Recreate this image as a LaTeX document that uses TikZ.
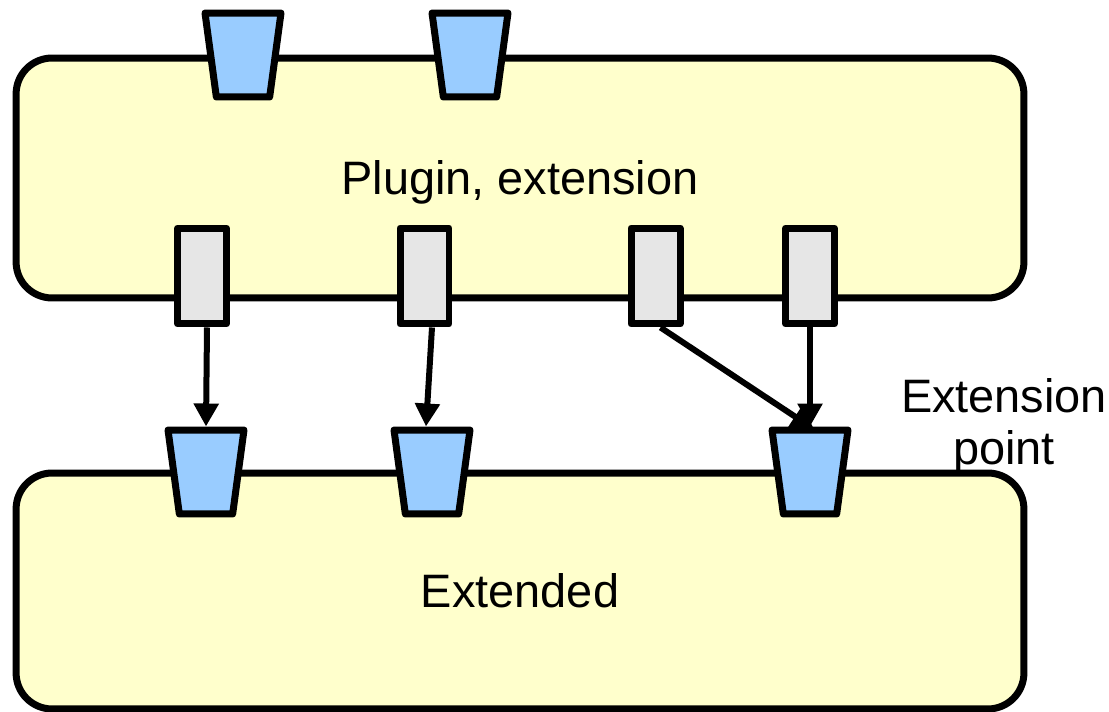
\documentclass[tikz,border=0pt]{standalone}
\usepackage{fontspec}
\setmainfont{Liberation Sans}
\usetikzlibrary{arrows.meta,shapes.geometric}
\definecolor{cream}{HTML}{FFFFCC}
\definecolor{skyblue}{HTML}{99CCFF}
\definecolor{pluggrey}{HTML}{E6E6E6}

\begin{document}
\begin{tikzpicture}[x=0.02cm, y=-0.02cm,
      part/.style={draw, line width=0.14cm, rounded corners=0.72cm, fill=cream,
        minimum width=20.16cm, inner sep=0pt, text depth=0pt,
        font=\fontsize{26.7}{29.6}\selectfont},
      socket/.style={draw, line width=0.14cm, fill=skyblue, trapezium,
        shape border rotate=180, trapezium stretches=true, trapezium angle=78,
        minimum width=1.52cm, minimum height=1.68cm, inner sep=1pt,
        line join=round},
      plug/.style={draw, line width=0.14cm, fill=pluggrey, line join=round,
        minimum width=0.98cm, minimum height=1.92cm, inner sep=0pt},
      arrow/.style={-{Triangle[length=0.46cm, width=0.48cm]}, line width=0.12cm}
    ]
      \useasboundingbox (0,0) rectangle (1109,712);
      % the two components
      \node[part, minimum height=4.8cm] (plugin) at (520,178) {Plugin, extension};
      \node[part, minimum height=4.72cm] (extended) at (520,591) {Extended};
      % extension points
      \node[socket] (t1) at (243,55) {};
      \node[socket] (t2) at (470,55) {};
      \node[socket] (b1) at (206,472) {};
      \node[socket] (b2) at (432,472) {};
      \node[socket] (b3) at (810,472) {};
      % extensions of the plugin
      \node[plug] (r1) at (202,276) {};
      \node[plug] (r2) at (424.5,276) {};
      \node[plug] (r3) at (655.5,276) {};
      \node[plug] (r4) at (810,276) {};
      \draw[arrow] ([xshift=0.1cm]r1.south) -- (b1.north);
      \draw[arrow] ([xshift=0.15cm]r2.south) -- ([xshift=-0.12cm]b2.north);
      \draw[arrow, shorten >=-0.1cm] ([xshift=0.1cm]r3.south) -- (b3.north);
      \draw[arrow] (r4.south) -- (b3.north);
      \node[font=\fontsize{26.7}{29.6}\selectfont, align=center, anchor=base]
        (eplabel) at (1004,465) {Extension\\point};
    \end{tikzpicture}
\end{document}
